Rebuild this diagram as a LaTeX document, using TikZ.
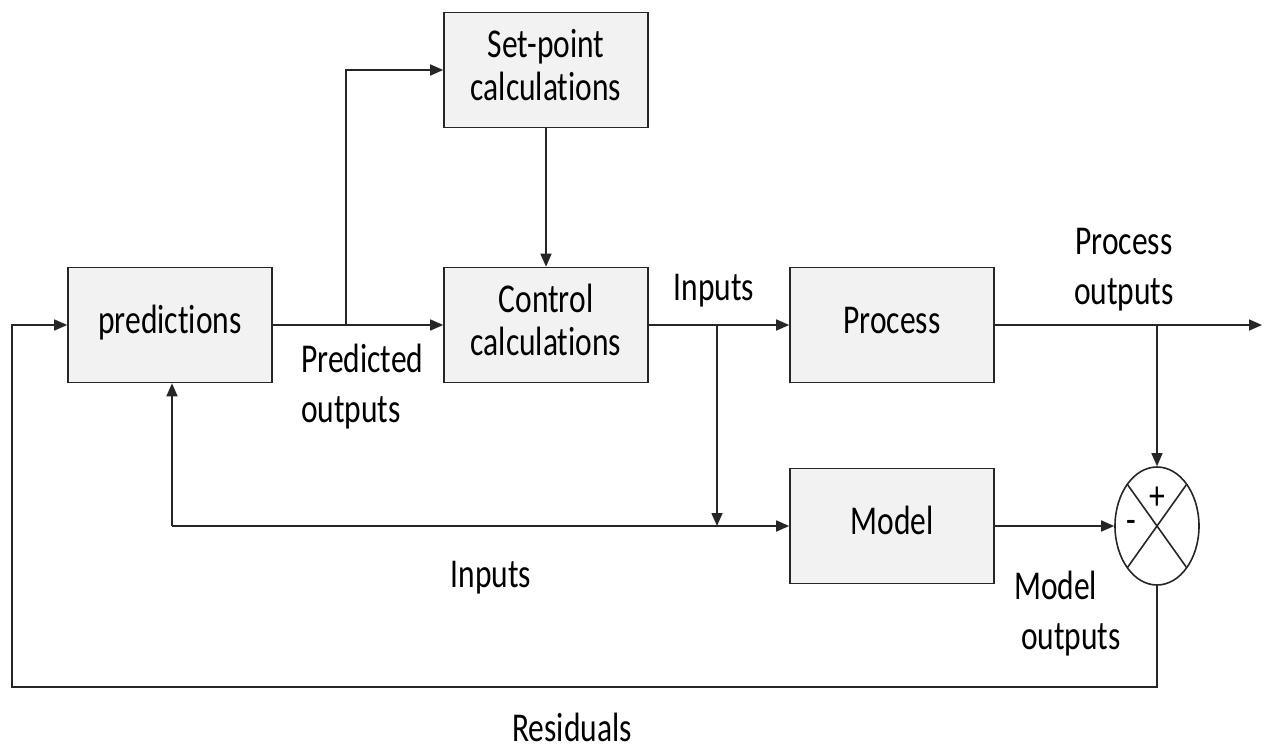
\documentclass[tikz,border=0pt]{standalone}
\usepackage{fontspec}
\setmainfont{Carlito}[Ligatures=NoCommon]
\usepackage{graphicx}
\usetikzlibrary{arrows.meta,shapes.geometric,calc}
\definecolor{boxfill}{RGB}{242,242,242}
\newcommand\boxtxt[1]{\scalebox{1}[1.3]{\begin{tabular}{@{}c@{}}#1\end{tabular}}}
\newcommand\lbltxt[2][c]{\scalebox{1}[1.3]{\begin{tabular}[t]{@{}#1@{}}#2\end{tabular}}}
\newcommand\onetxt[1]{\scalebox{1}[1.3]{#1}}
\begin{document}
\begin{tikzpicture}[x=1pt,y=-1pt,
  blk/.style={draw=black!85,line width=1.6pt,fill=boxfill,minimum width=204pt,minimum height=115pt,inner sep=0pt,font=\fontsize{31.5}{33}\selectfont},
  lbl/.style={font=\fontsize{31.5}{39}\selectfont,inner sep=0pt,anchor=base},
  con/.style={line width=1.6pt,draw=black!85},
  arr/.style={con,-{Triangle[length=13pt,width=11pt]}}]
\useasboundingbox (0,0) rectangle (1270,747);
\node[blk] (pred) at (170,325) {\boxtxt{predictions}};
\node[blk] (setp) at (546,70) {\boxtxt{Set-point\\calculations}};
\node[blk] (ctrl) at (546,325) {\boxtxt{Control\\calculations}};
\node[blk] (proc) at (892,325) {\boxtxt{Process}};
\node[blk] (model) at (892,526) {\boxtxt{Model}};
\node[draw=black!85,line width=1.6pt,ellipse,minimum width=84pt,minimum height=118pt,inner sep=0pt] (sum) at (1157,526) {};
\draw[con] ([shift={(-29.7,-41.7)}]sum.center) -- ([shift={(29.7,41.7)}]sum.center);
\draw[con] ([shift={(29.7,-41.7)}]sum.center) -- ([shift={(-29.7,41.7)}]sum.center);
\node[font=\fontsize{31.5}{33}\selectfont,inner sep=0pt] (plus) at (1157,498) {\onetxt{+}};
\node[font=\fontsize{31.5}{33}\selectfont,inner sep=0pt] (minus) at (1131,527) {\onetxt{-}};
\coordinate (j1) at (346,325);
\coordinate (j1t) at (346,70);
\coordinate (j2) at (717,325);
\coordinate (j2b) at (717,526);
\coordinate (j3) at (172,526);
\coordinate (j4) at (1157,325);
\coordinate (out) at (1262,325);
\coordinate (r1) at (1157,687);
\coordinate (r2) at (12,687);
\coordinate (r3) at (12,325);
\draw[arr] (pred.east) -- (ctrl.west);
\draw[arr] (j1) -- (j1t) -- (setp.west);
\draw[arr] (setp.south) -- (ctrl.north);
\draw[arr] (ctrl.east) -- (proc.west);
\draw[arr] (j2) -- (j2b);
\draw[arr] (j3) -- (model.west);
\draw[arr] (j3) -- (pred.south -| j3);
\draw[arr] (proc.east) -- (out);
\draw[arr] (j4) -- (sum.north);
\draw[arr] (model.east) -- (sum.west);
\draw[arr] (sum.south) -- (r1) -- (r2) -- (r3) -- (pred.west);
\node[lbl] (t1) at (714,300) {\onetxt{Inputs}};
\node[lbl] (t2) at (1124,254) {\lbltxt{Process\\outputs}};
\node[lbl,anchor=base west] (t3) at (301,372) {\lbltxt[l]{Predicted\\outputs}};
\node[lbl] (t4) at (491,587) {\onetxt{Inputs}};
\node[lbl,anchor=base west] (t5) at (1014,599) {\lbltxt[l]{Model\\\hspace*{7pt}outputs}};
\node[lbl] (t6) at (572,741) {\onetxt{Residuals}};
\end{tikzpicture}
\end{document}
